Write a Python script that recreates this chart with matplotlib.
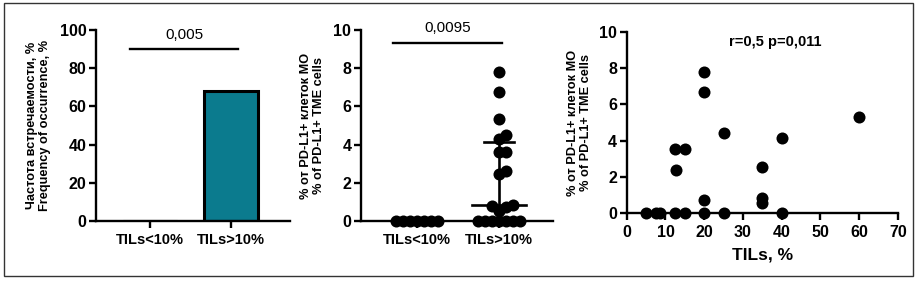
import matplotlib
matplotlib.use("Agg")
import matplotlib.pyplot as plt
import numpy as np
from matplotlib.patches import Rectangle

plt.rcParams['font.family'] = ['Liberation Sans', 'DejaVu Sans']
plt.rcParams['font.weight'] = 'bold'

# ---------------- data ----------------
groups = ["TILs<10%", "TILs>10%"]
freq_values = [0, 68]
freq_p = "0,005"

pd_l1_low = [0, 0, 0, 0, 0, 0, 0]
pd_l1_high = [7.8, 6.75, 5.35, 4.5, 4.3, 3.6, 3.6, 2.6, 2.45, 0.85, 0.8, 0.75, 0.5,
              0, 0, 0, 0, 0, 0, 0]
pd_l1_median = 0.85
pd_l1_q3 = 4.15
pd_l1_q1 = 0.0
dot_p = "0,0095"

tils_x = [5, 7.5, 8.5, 12.5, 15, 12.5, 15, 12.7, 20, 20, 20, 20, 25, 25, 35, 35, 35, 40, 40, 60]
tils_y = [0, 0, 0, 0, 0, 3.55, 3.55, 2.4, 7.8, 6.7, 0.73, 0, 4.44, 0, 2.57, 0.83, 0.55, 4.13, 0, 5.28]
corr_text = "r=0,5 p=0,011"

ylab1 = "Частота встречаемости, %\nFrequency of occurrence, %"
ylab2 = "% от PD-L1+ клеток МО\n% of PD-L1+ TME cells"

W, H = 922, 283
fig = plt.figure(figsize=(W / 100, H / 100), dpi=100)


def rect(x0, y_top, x1, y_bot):
    return [x0 / W, 1 - y_bot / H, (x1 - x0) / W, (y_bot - y_top) / H]


def style(ax):
    for s in ['top', 'right']:
        ax.spines[s].set_visible(False)
    for s in ['left', 'bottom']:
        ax.spines[s].set_linewidth(1.7)
    ax.tick_params(width=1.7, length=5, direction='out')
    ax.tick_params(axis='y', labelsize=11.5, pad=2)
    ax.tick_params(axis='x', labelsize=10.5)
    for lab in ax.get_xticklabels() + ax.get_yticklabels():
        lab.set_fontweight('bold')


# border
fig.add_artist(Rectangle((4 / W, 1 - 276 / H), (913 - 4) / W, (276 - 3) / H,
                         transform=fig.transFigure, fill=False, edgecolor='#333333', lw=1.0))

# ---------- panel 1: bar ----------
ax1 = fig.add_axes(rect(96, 30, 290, 221))
x = np.arange(len(groups))
ax1.bar(x, freq_values, width=0.667, color='#0b7b8e', edgecolor='black', linewidth=2.2)
ax1.set_xlim(-0.667, 1.728)
ax1.set_ylim(0, 100)
ax1.set_yticks([0, 20, 40, 60, 80, 100])
ax1.set_xticks(x)
ax1.set_xticklabels(groups)
style(ax1)
ax1.plot([-0.25, 1.09], [90, 90], color='black', lw=1.7, clip_on=False)
ax1.text(0.42, 97.5, freq_p, ha='center', va='center', fontsize=11, fontweight='normal')
ax1.set_ylabel(ylab1, fontsize=9.2, fontweight='bold', labelpad=6, linespacing=1.15)

# ---------- panel 2: dot plot ----------
ax2 = fig.add_axes(rect(361, 30, 553, 221))
ax2.set_xlim(-0.683, 1.66)
ax2.set_ylim(0, 10)
ax2.set_yticks([0, 2, 4, 6, 8, 10])
ax2.set_xticks(x)
ax2.set_xticklabels(groups)
style(ax2)
fig.canvas.draw()


def swarm(ax, center, vals, dmin=7.0, step=3.5):
    placed = []
    order = np.argsort(vals)
    res = [None] * len(vals)
    cx, _ = ax.transData.transform((center, 0))
    for i in order:
        _, py = ax.transData.transform((center, vals[i]))
        k = 0
        while True:
            for sgn in ([0] if k == 0 else [1, -1]):
                px = cx + sgn * k * step
                if all((px - qx) ** 2 + (py - qy) ** 2 >= dmin ** 2 for qx, qy in placed):
                    placed.append((px, py))
                    res[i] = ax.transData.inverted().transform((px, py))[0]
                    break
            else:
                k += 1
                continue
            break
    return res


for gi, vals in enumerate([pd_l1_low, pd_l1_high]):
    xs = swarm(ax2, gi, vals)
    ax2.scatter(xs, vals, s=75, color='black', zorder=3, clip_on=False, linewidths=0)

ax2.plot([1 - 0.33, 1 + 0.33], [pd_l1_median] * 2, color='black', lw=1.9, zorder=4)
ax2.plot([1 - 0.18, 1 + 0.18], [pd_l1_q3] * 2, color='black', lw=1.9, zorder=4)
ax2.plot([1, 1], [pd_l1_q1, pd_l1_q3], color='black', lw=1.9, zorder=4)
ax2.plot([-0.29, 1.04], [9.3, 9.3], color='black', lw=1.7, clip_on=False)
ax2.text(0.38, 10.1, dot_p, ha='center', va='center', fontsize=11, fontweight='normal')
ax2.set_ylabel(ylab2, fontsize=9.2, fontweight='bold', labelpad=6, linespacing=1.15)

# ---------- panel 3: scatter ----------
ax3 = fig.add_axes(rect(626.7, 31.7, 898, 213.3))
ax3.scatter(tils_x, tils_y, s=75, color='black', zorder=3, clip_on=False, linewidths=0)
ax3.set_xlim(0, 70)
ax3.set_ylim(0, 10)
ax3.set_xticks(np.arange(0, 71, 10))
ax3.set_yticks([0, 2, 4, 6, 8, 10])
style(ax3)
ax3.tick_params(axis='x', labelsize=11.5)
ax3.text(38.3, 9.45, corr_text, ha='center', va='center', fontsize=10.5, fontweight='bold')
ax3.set_xlabel("TILs, %", fontsize=12.5, fontweight='bold', labelpad=5)
ax3.set_ylabel(ylab2, fontsize=9.2, fontweight='bold', labelpad=5, linespacing=1.15)

fig.savefig("out.png", dpi=100)
